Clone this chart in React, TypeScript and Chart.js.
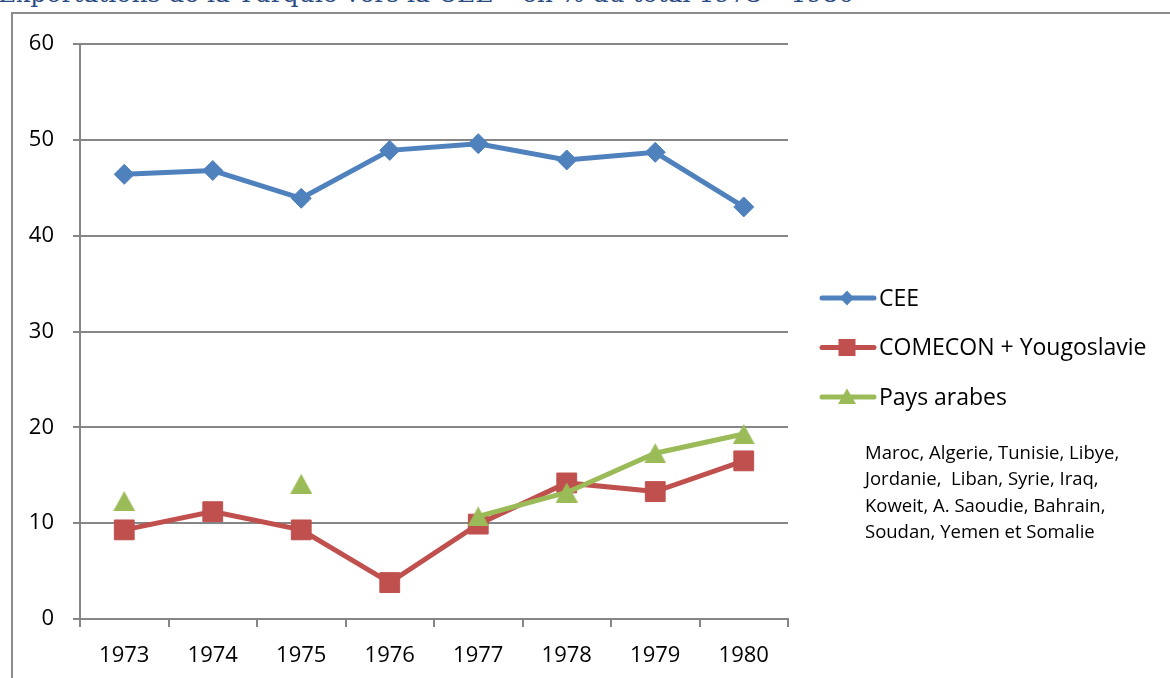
import React, { useEffect, useRef } from 'react';
import { Chart, registerables } from 'chart.js';

Chart.register(...registerables);

const titleText = 'Exportations de la Turquie vers la CEE – en % du total 1973 – 1980';
const years = ['1973', '1974', '1975', '1976', '1977', '1978', '1979', '1980'];
const ceeValues = [46.4, 46.8, 43.9, 48.9, 49.6, 47.9, 48.7, 43.0];
const comeconValues = [9.3, 11.2, 9.3, 3.8, 9.9, 14.2, 13.3, 16.5];
const paysArabesValues: (number | null)[] = [12.3, null, 14.1, null, 10.7, 13.2, 17.3, 19.3];
const seriesLabels = ['CEE', 'COMECON + Yougoslavie', 'Pays arabes'];
const noteLines = [
  'Maroc, Algerie, Tunisie, Libye,',
  'Jordanie,  Liban, Syrie, Iraq,',
  'Koweit, A. Saoudie, Bahrain,',
  'Soudan, Yemen et Somalie',
];
const yMin = 0;
const yMax = 60;
const yStep = 10;

const BLUE = '#4F81BD';
const RED = '#C0504D';
const GREEN = '#9BBB59';
const GRID = '#868686';
const FONT = '"Open Sans", "DejaVu Sans", sans-serif';

function makeTriangle(w: number, h: number, color: string) {
  const c = document.createElement('canvas');
  c.width = w;
  c.height = h;
  const g = c.getContext('2d')!;
  g.fillStyle = color;
  g.beginPath();
  g.moveTo(w / 2, 0);
  g.lineTo(w, h);
  g.lineTo(0, h);
  g.closePath();
  g.fill();
  return c;
}

const sideLegend = {
  id: 'sideLegend',
  afterDraw(chart: any) {
    const ctx = chart.ctx as CanvasRenderingContext2D;
    ctx.save();
    chart.data.datasets.forEach((ds: any, i: number) => {
      const y = 298 + i * 49.5;
      ctx.strokeStyle = ds.borderColor;
      ctx.lineWidth = 5;
      ctx.lineCap = 'round';
      ctx.beginPath();
      ctx.moveTo(822, y);
      ctx.lineTo(874, y);
      ctx.stroke();
      ctx.fillStyle = ds.borderColor;
      const cx = 847;
      ctx.beginPath();
      if (i === 0) {
        ctx.moveTo(cx, y - 7.5);
        ctx.lineTo(cx + 7, y);
        ctx.lineTo(cx, y + 7.5);
        ctx.lineTo(cx - 7, y);
      } else if (i === 1) {
        ctx.rect(cx - 8.5, y - 8.5, 17, 17);
      } else {
        ctx.moveTo(cx, y - 8.5);
        ctx.lineTo(cx + 9, y + 7);
        ctx.lineTo(cx - 9, y + 7);
      }
      ctx.closePath();
      ctx.fill();
      ctx.fillStyle = '#000';
      ctx.font = '23px ' + FONT;
      ctx.textAlign = 'left';
      ctx.textBaseline = 'middle';
      ctx.fillText(ds.label, 879, y + 1);
    });
    ctx.font = '18.5px ' + FONT;
    ctx.textBaseline = 'alphabetic';
    noteLines.forEach((line, i) => {
      ctx.fillText(line, 865, 459 + i * 26.3);
    });
    ctx.restore();
  },
};

export default function App() {
  const ref = useRef<HTMLCanvasElement>(null);

  useEffect(() => {
    document.body.style.margin = '0';
    const tri = makeTriangle(22, 20, GREEN);
    const chart = new Chart(ref.current!, {
      type: 'line',
      data: {
        labels: years,
        datasets: [
          {
            label: seriesLabels[0],
            data: ceeValues,
            borderColor: BLUE,
            backgroundColor: BLUE,
            borderWidth: 5,
            pointStyle: 'rectRot',
            pointRadius: 10,
            pointBorderWidth: 1,
            pointBorderColor: BLUE,
            pointBackgroundColor: BLUE,
            tension: 0,
            order: 3,
          },
          {
            label: seriesLabels[1],
            data: comeconValues,
            borderColor: RED,
            backgroundColor: RED,
            borderWidth: 5,
            pointStyle: 'rect',
            pointRadius: 14,
            pointBorderWidth: 1,
            pointBorderColor: RED,
            pointBackgroundColor: RED,
            tension: 0,
            order: 2,
          },
          {
            label: seriesLabels[2],
            data: paysArabesValues,
            borderColor: GREEN,
            backgroundColor: GREEN,
            borderWidth: 5,
            pointStyle: tri as any,
            pointRadius: 11,
            tension: 0,
            spanGaps: false,
            order: 1,
          },
        ],
      },
      options: {
        animation: false,
        responsive: false,
        devicePixelRatio: 1,
        events: [],
        layout: { padding: { left: 0, top: 44, right: 382, bottom: 0 } },
        plugins: { legend: { display: false }, tooltip: { enabled: false }, title: { display: false } },
        scales: {
          x: {
            type: 'category',
            offset: true,
            grid: { offset: true, drawOnChartArea: false, color: GRID, lineWidth: 2, tickLength: 8 },
            border: { color: GRID, width: 2 },
            ticks: { color: '#000', font: { family: FONT, size: 22 }, padding: 16 },
            afterFit: (s: any) => { s.height = 59; },
          },
          y: {
            min: yMin,
            max: yMax,
            grid: { color: GRID, lineWidth: 2, tickLength: 7 },
            border: { color: GRID, width: 2 },
            ticks: { stepSize: yStep, color: '#000', font: { family: FONT, size: 22 }, padding: 19 },
            afterFit: (s: any) => { s.width = 80; },
          },
        },
      },
      plugins: [sideLegend],
    });
    return () => chart.destroy();
  }, []);

  return (
    <div style={{ position: 'absolute', left: 0, top: 0, width: 1170, height: 678, overflow: 'hidden', background: '#fff' }}>
      <div
        style={{
          position: 'absolute',
          left: -2,
          top: -19,
          whiteSpace: 'nowrap',
          fontFamily: '"DejaVu Serif", "Liberation Serif", serif',
          fontSize: 25,
          lineHeight: '25px',
          color: '#2B4C7E',
        }}
      >
        {titleText}
      </div>
      <div
        style={{
          position: 'absolute',
          left: 11,
          top: 12,
          width: 1200,
          height: 700,
          borderLeft: '2px solid #8C8C8C',
          borderTop: '2px solid #8C8C8C',
        }}
      />
      <canvas ref={ref} width={1170} height={678} style={{ position: 'absolute', left: 0, top: 0, width: 1170, height: 678 }} />
    </div>
  );
}
